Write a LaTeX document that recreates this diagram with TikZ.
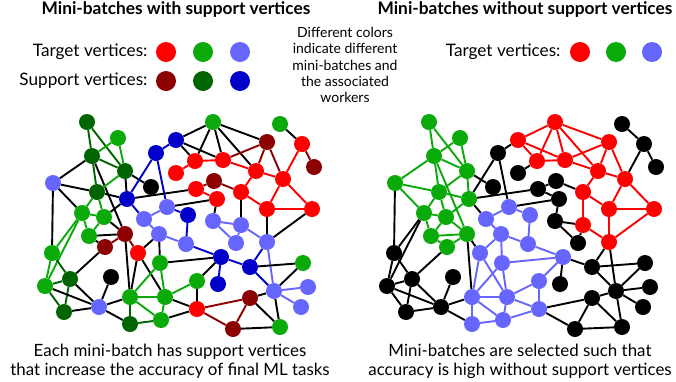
\documentclass[tikz,border=0pt]{standalone}
\usepackage{fontspec}
\setmainfont{Lato}
\usepackage{tikz}
\usetikzlibrary{backgrounds}
\definecolor{redT}{RGB}{255,0,0}
\definecolor{redS}{RGB}{140,0,0}
\definecolor{greenT}{RGB}{10,170,10}
\definecolor{greenS}{RGB}{0,100,0}
\definecolor{blueT}{RGB}{102,102,255}
\definecolor{blueS}{RGB}{0,0,200}
\tikzset{
    vtx/.style={circle, inner sep=0pt, minimum size=16pt},
    dot/.style={circle, inner sep=0pt, minimum size=20pt},
    edge/.style={line width=1.9pt},
    lbl/.style={font=\fontsize{17.2}{20}\selectfont},
}
\begin{document}
\begin{tikzpicture}[x=1pt, y=-1pt]
    \useasboundingbox (0,0) rectangle (676,381);
    \node[font=\bfseries\fontsize{17.3}{20}\selectfont] (ttl1) at (176,10) {Mini-batches with support vertices};
    \node[font=\bfseries\fontsize{17.3}{20}\selectfont] (ttl2) at (525,10) {Mini-batches without support vertices};
    \node[lbl, anchor=east] (tgt1) at (151,52) {Target vertices:};
    \node[lbl, anchor=east] (sup1) at (151,81) {Support vertices:};
    \node[lbl, anchor=east] (tgt2) at (564,52) {Target vertices:};
    \foreach \i/\c in {1/redT,2/greenT,3/blueT} {
        \node[dot, fill=\c] (tl\i) at (129+37*\i,52) {};
        \node[dot, fill=\c] (tr\i) at (544+36*\i,52) {};
    }
    \foreach \i/\c in {1/redS,2/greenS,3/blueS}
        \node[dot, fill=\c] (sl\i) at (129+37*\i,81) {};
    \node[align=center, font=\fontsize{14}{16.3}\selectfont] (note) at (345,65) {Different colors\\indicate different\\mini-batches and\\the associated\\workers};
    \node[align=center, font=\fontsize{16.9}{19}\selectfont] (cap1) at (170,361) {Each mini-batch has support vertices\\that increase the accuracy of final ML tasks};
    \node[align=center, font=\fontsize{16.9}{19}\selectfont] (cap2) at (520,361) {Mini-batches are selected such that\\accuracy is high without support vertices};
    \foreach \i/\x/\y/\cl/\cr in {1/87/122/greenS/greenT, 2/118/138/greenT/greenT, 3/92/156/greenS/greenT,
        4/125/171/greenS/greenT, 5/53/183/blueT/greenT, 6/151/187/black/black, 7/97/192/greenS/greenT,
        8/127/199/blueS/greenT, 9/156/153/blueS/black, 10/176/140/blueS/redT, 11/176/173/redT/black,
        12/82/213/greenT/greenT, 13/104/217/greenT/greenT, 14/167/207/blueT/blueT, 15/144/219/blueT/blueT,
        16/213/122/greenT/redT, 17/280/124/greenT/black, 18/267/142/redS/redT, 19/302/144/redT/black,
        20/195/161/redT/redT, 21/223/160/redT/redT, 22/314/167/redS/black, 23/256/171/redT/redT,
        24/283/179/redT/redT, 25/214/181/redS/black, 26/196/189/redT/black, 27/217/199/redT/black,
        28/241/192/redT/redT, 29/267/209/redT/redT, 30/312/209/redT/redT, 31/188/215/blueS/blueT,
        32/213/221/blueT/black, 33/241/225/blueT/redT, 34/236/243/blueT/black, 35/267/242/blueT/redT,
        36/186/244/blueT/blueT, 37/221/257/blueS/blueT, 38/250/267/blueS/black, 39/303/263/greenT/black,
        40/197/281/greenT/blueT, 41/218/284/blueS/black, 42/274/291/blueT/black, 43/308/287/blueT/black,
        44/301/307/blueT/black, 45/197/309/redT/blueT, 46/250/298/redS/black, 47/233/329/redS/black,
        48/280/327/greenT/black, 49/89/236/greenT/greenT, 50/125/234/redS/greenT, 51/105/247/redS/greenT,
        52/159/234/blueT/blueT, 53/138/253/redT/blueT, 54/52/253/greenT/black, 55/160/263/greenT/blueT,
        56/70/279/greenS/black, 57/111/277/black/black, 58/45/286/greenT/black, 59/130/297/greenT/blueT,
        60/165/297/greenT/blueT, 61/99/307/blueT/black, 62/64/312/greenS/black, 63/130/324/greenS/blueT,
        64/161/320/greenT/blueT} {
        \node[vtx, fill=\cl] (l\i) at (\x,\y) {};
        \node[vtx, fill=\cr] (r\i) at (\x+342,\y) {};
    }
    \begin{scope}[on background layer]
    \foreach \a/\b/\cl/\cr in {1/3/greenS/greenT, 1/4/greenS/greenT, 2/3/greenT/greenT, 2/4/greenT/greenT,
        3/4/greenS/greenT, 3/5/black/greenT, 3/7/greenS/greenT, 3/50/black/greenT, 4/6/black/black,
        4/7/greenT/greenT, 4/8/black/greenT, 5/7/black/greenT, 5/12/black/greenT, 5/54/black/black,
        7/8/black/greenT, 7/12/greenT/greenT, 7/13/greenT/greenT, 8/9/blueS/black, 9/10/blueS/black,
        9/14/blueS/black, 8/15/blueS/black, 8/26/black/black, 10/16/black/redT, 10/20/black/redT,
        10/21/black/redT, 11/20/redT/black, 14/27/black/black, 14/15/blueT/blueT, 8/13/black/greenT,
        12/13/greenT/greenT, 12/49/greenT/greenT, 13/49/greenT/greenT, 12/54/greenT/black, 12/58/greenT/black,
        16/20/black/redT, 16/21/black/redT, 16/23/black/redT, 16/18/black/redT, 17/19/black/black,
        18/21/redS/redT, 18/23/redS/redT, 18/24/redS/redT, 19/24/redT/black, 19/22/redS/black,
        20/21/redT/redT, 21/23/redT/redT, 23/24/redT/redT, 23/28/redT/redT, 25/26/redS/black,
        26/27/redT/black, 25/28/redS/black, 28/29/redT/redT, 24/29/redT/redT, 24/30/redT/redT,
        29/30/redT/redT, 28/33/black/redT, 27/32/black/black, 29/35/black/redT, 30/35/black/redT,
        31/36/blueS/blueT, 14/31/blueS/blueT, 32/33/blueT/black, 33/34/blueT/black, 33/35/blueT/redT,
        32/34/blueT/black, 35/38/blueS/black, 35/42/blueT/black, 36/37/blueS/blueT, 37/38/blueS/black,
        37/40/black/blueT, 37/41/blueS/black, 37/55/black/blueT, 38/39/black/black, 38/42/blueS/black,
        39/42/black/black, 42/43/blueT/black, 42/44/blueT/black, 42/46/black/black, 42/48/black/black,
        45/46/redS/black, 46/47/redS/black, 45/47/redS/black, 47/48/black/black, 46/48/black/black,
        40/45/black/blueT, 40/60/greenT/blueT, 36/52/blueT/blueT, 15/52/blueT/blueT, 60/45/black/blueT,
        64/45/black/blueT, 57/61/black/black, 56/51/black/black, 56/54/greenS/black, 56/58/greenS/black,
        56/62/greenS/black, 56/61/black/black, 58/62/greenS/black, 58/61/black/black, 62/61/black/black,
        61/59/black/black, 61/63/black/black, 54/58/greenT/black, 50/59/black/black, 49/50/black/greenT,
        49/51/black/greenT, 50/51/redS/greenT, 13/50/black/greenT, 50/53/redS/black, 52/53/black/blueT,
        53/59/black/blueT, 55/60/greenT/blueT, 53/60/black/blueT, 52/55/black/blueT, 55/59/greenT/blueT,
        59/60/greenT/blueT, 59/63/greenS/blueT, 59/64/greenT/blueT, 60/64/greenT/blueT, 63/64/greenS/blueT} {
        \draw[edge, \cl] (l\a) -- (l\b);
        \draw[edge, \cr] (r\a) -- (r\b);
    }
    \end{scope}
\end{tikzpicture}
\end{document}
